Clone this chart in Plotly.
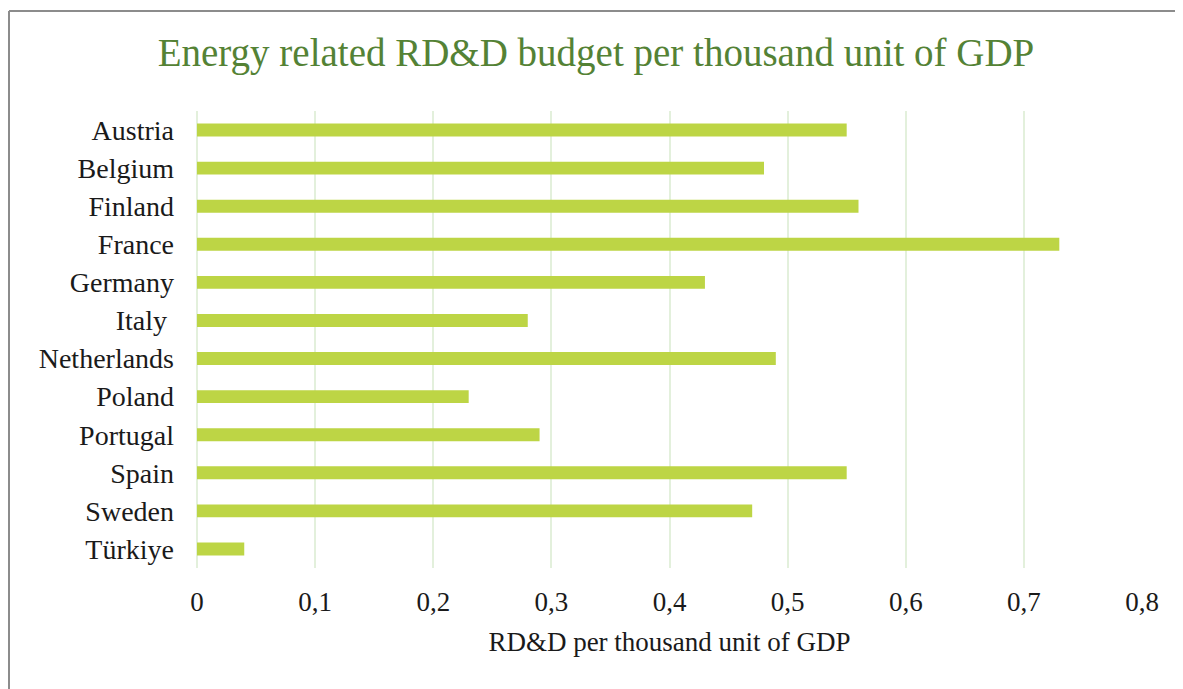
import plotly.graph_objects as go

countries = ["Austria", "Belgium", "Finland", "France", "Germany", "Italy\u00a0",
             "Netherlands", "Poland", "Portugal", "Spain", "Sweden", "Türkiye"]
values = [0.55, 0.48, 0.56, 0.73, 0.43, 0.28, 0.49, 0.23, 0.29, 0.55, 0.47, 0.04]
x_ticks = [0, 0.1, 0.2, 0.3, 0.4, 0.5, 0.6, 0.7, 0.8]
x_tick_labels = ["0", "0,1", "0,2", "0,3", "0,4", "0,5", "0,6", "0,7", "0,8"]

# page has an 8px body margin; figure sized to fit the window
OFF = 8
W, H = 1183 - OFF, 689 - OFF
ML, MT = 197 - OFF, 111 - OFF
MR = W - (1142 - OFF)
MB = H - (568 - OFF)
PW, PH = W - ML - MR, H - MT - MB

FONT = "Liberation Serif, Times New Roman, serif"

fig = go.Figure(go.Bar(
    x=values, y=countries, orientation="h",
    marker=dict(color="#bdd545", line=dict(width=0)),
    width=0.34,
))

def px_x(p):
    return (p - ML) / PW

def px_y(p):
    return (H - MB - p) / PH

fig.update_layout(
    width=W, height=H,
    margin=dict(l=ML, r=MR, t=MT, b=MB),
    paper_bgcolor="white", plot_bgcolor="white",
    showlegend=False,
    title=dict(text="Energy related RD&D budget per thousand unit of GDP",
               font=dict(family=FONT, size=39, color="#548235"),
               x=(596 - OFF) / W, xref="container", xanchor="center",
               y=1 - (52 - OFF) / H, yref="container", yanchor="middle"),
    xaxis=dict(range=[0, 0.8], tickvals=x_ticks, ticktext=x_tick_labels,
               showgrid=True, gridcolor="#e3f0dc", gridwidth=2,
               zeroline=True, zerolinecolor="#e3f0dc", zerolinewidth=2,
               showline=False, ticks="",
               tickfont=dict(family=FONT, size=27, color="#1a1a1a"),
               ticklabelstandoff=15,
               title=dict(text="RD&D per thousand unit of GDP",
                          font=dict(family=FONT, size=27, color="#1a1a1a"),
                          standoff=16)),
    yaxis=dict(autorange="reversed", showgrid=False, showline=False, ticks="",
               tickfont=dict(family=FONT, size=28, color="#1a1a1a"),
               ticklabelstandoff=22),
    shapes=[
        dict(type="line", xref="paper", yref="paper",
             x0=px_x(1), x1=px_x(W + 5), y0=px_y(3), y1=px_y(3),
             line=dict(color="#8c8c8c", width=2)),
        dict(type="line", xref="paper", yref="paper",
             x0=px_x(1), x1=px_x(1), y0=px_y(3), y1=px_y(H + 5),
             line=dict(color="#8c8c8c", width=2)),
    ],
)

fig.write_html("out.html")
